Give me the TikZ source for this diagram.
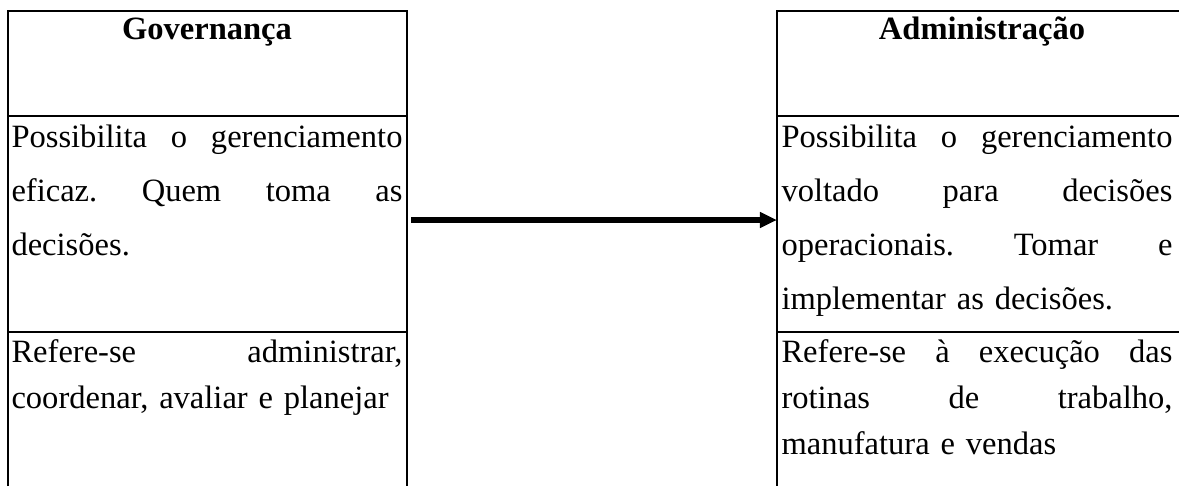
\documentclass[tikz,border=0pt]{standalone}
\usepackage{fontspec}
\setmainfont{Liberation Serif}
\usetikzlibrary{arrows.meta}
\setlength{\parindent}{0pt}

% one justified line of a cell
\newcommand{\jl}[1]{\leavevmode\hbox to \linewidth{\spaceskip=0.25em plus 1fil\xspaceskip=\spaceskip #1}}

\begin{document}
\begin{tikzpicture}[x=0.375pt, y=-0.375pt,
    rule/.style={line width=0.5pt},
    cell/.style={anchor=base west, inner sep=0pt, text width=146.6pt, align=left,
        font=\fontsize{12.2}{20.25}\selectfont},
    lowcell/.style={cell, font=\fontsize{12.2}{17.4}\selectfont},
    head/.style={anchor=base, inner sep=0pt, font=\fontsize{12.2}{14}\selectfont\bfseries}]
    \useasboundingbox (0,0) rectangle (1179,486);

    % Left table
    \draw[rule] (8,486) -- (8,11) -- (407,11) -- (407,486);
    \draw[rule] (8,116) -- (407,116);
    \draw[rule] (8,332) -- (407,332);

    % Right table
    \draw[rule] (1179,11) -- (777,11) -- (777,486);
    \draw[rule] (777,116) -- (1179,116);
    \draw[rule] (777,332) -- (1179,332);

    % Headers
    \node[head] (govh) at (207,39) {Governança};
    \node[head] (admh) at (982,39) {Administração};

    % Governance cells
    \node[cell] (gov1) at (11,147) {\jl{Possibilita o gerenciamento}\\ \jl{eficaz. Quem toma as}\\ decisões.};
    \node[lowcell] (gov2) at (11,362) {\jl{Refere-se administrar,}\\ coordenar, avaliar e planejar};

    % Administration cells
    \node[cell] (adm1) at (781,147) {\jl{Possibilita o gerenciamento}\\ \jl{voltado para decisões}\\ \jl{operacionais. Tomar e}\\ implementar as decisões.};
    \node[lowcell] (adm2) at (781,362) {\jl{Refere-se à execução das}\\ \jl{rotinas de trabalho,}\\ manufatura e vendas};

    % Arrow
    \coordinate (from) at (411,220);
    \coordinate (to) at (777,220);
    \draw[line width=1.9pt, -{Triangle[length=6.4pt, width=5.6pt]}] (from) -- (to);
\end{tikzpicture}
\end{document}
